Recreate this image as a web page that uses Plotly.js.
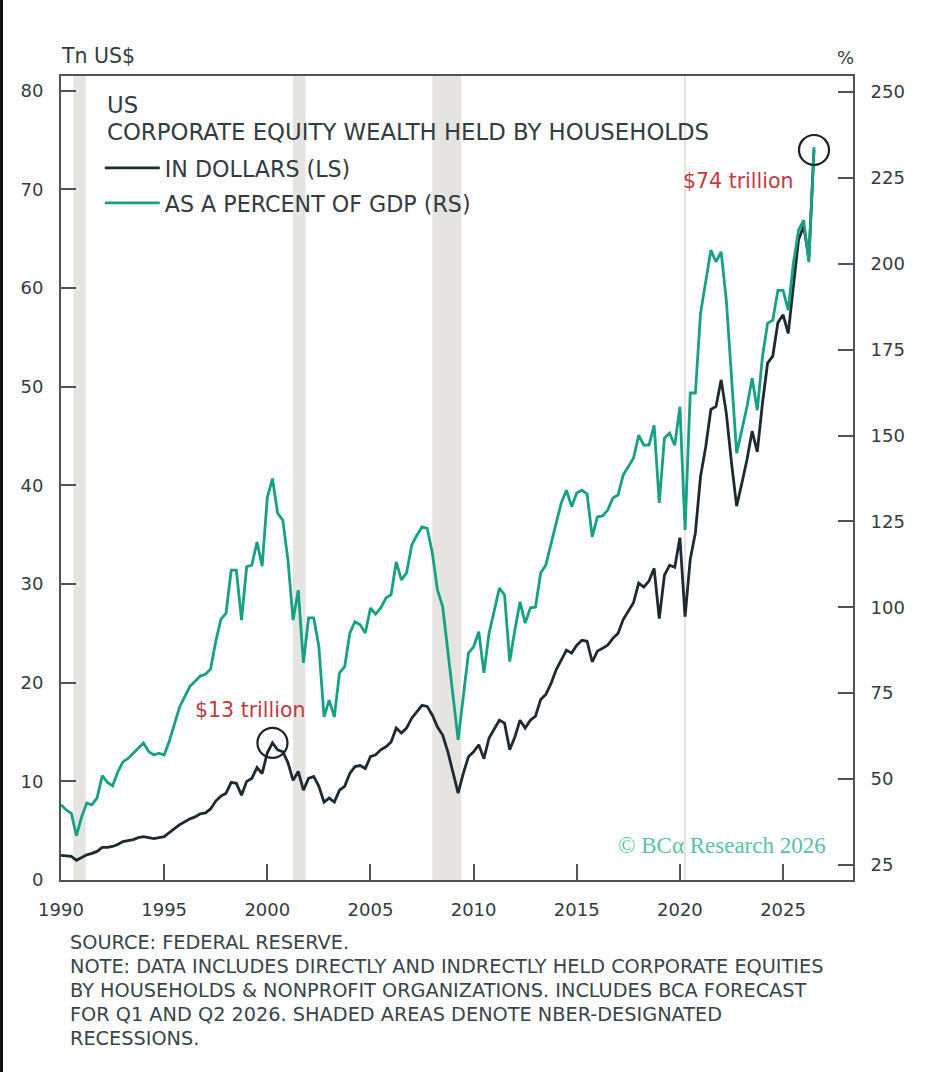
<!DOCTYPE html>
<html>
<head>
<meta charset="utf-8">
<script src="https://cdn.plot.ly/plotly-3.0.1.min.js"></script>
<style>
  html, body { margin: 0; padding: 0; background: #ffffff; }
  #wrap { position: relative; width: 939px; height: 1072px; overflow: hidden; }
  #chart { width: 939px; height: 1072px; }
  #edge { position: absolute; left: 0; top: 0; width: 3px; height: 1072px; background: #111; }
</style>
</head>
<body>
<div id="wrap"><div id="chart"></div><div id="edge"></div></div>
<script>
// ---- Data (quarter-end dates, 1989Q4 .. 2026Q2) ----
const firstYear = 1989;
const firstQuarter = 4;

// Corporate equity wealth held by households, trillions of US$ (left scale)
const dollarsTn = [
  2.5, 2.45, 2.4, 2.0,
  2.3, 2.55, 2.7, 2.9,
  3.3, 3.3, 3.4, 3.6,
  3.9, 4.0, 4.1, 4.3,
  4.4, 4.3, 4.2, 4.3,
  4.4, 4.8, 5.2, 5.6,
  5.9, 6.2, 6.4, 6.7,
  6.8, 7.2, 8.0, 8.5,
  8.8, 9.9, 9.8, 8.6,
  10.0, 10.3, 11.4, 10.8,
  12.9, 13.9, 13.2, 13.0,
  11.9, 10.1, 11.0, 9.1,
  10.3, 10.5, 9.5, 7.9,
  8.3, 7.9, 9.1, 9.5,
  10.8, 11.5, 11.6, 11.3,
  12.5, 12.7, 13.2, 13.5,
  14.0, 15.4, 14.9, 15.4,
  16.4, 17.1, 17.7, 17.6,
  16.7, 15.5, 14.7, 13.0,
  11.0, 8.8, 10.8, 12.5,
  13.0, 13.7, 12.3, 14.4,
  15.3, 16.2, 15.9, 13.2,
  14.5, 16.2, 15.4, 16.2,
  16.6, 18.3, 18.8, 19.9,
  21.3, 22.3, 23.3, 23.0,
  23.8, 24.3, 24.2, 22.1,
  23.2, 23.5, 23.8, 24.5,
  25.0, 26.4, 27.2, 28.1,
  30.1, 29.7, 30.3, 31.6,
  26.5, 30.9, 31.9, 31.7,
  34.7, 26.7, 32.5, 35.2,
  40.9, 43.9, 47.7, 48.0,
  50.7, 47.3, 42.3, 37.9,
  40.2, 42.6, 45.5, 43.4,
  48.3, 52.4, 53.1, 56.5,
  57.3, 55.4, 60.2, 64.9,
  66.3, 63.0, 74.0
];

// As a percent of GDP (right scale)
const pctGDP = [
  42.5, 41, 40, 33.5,
  39, 43, 42.5, 44.5,
  51, 49, 48, 52,
  55, 56, 57.5, 59,
  60.5, 58, 57, 57.5,
  57, 61, 66, 71,
  74, 77, 78.5, 80,
  80.5, 82, 90, 96.5,
  98.3, 110.8, 110.8, 96.3,
  111.8, 112.3, 119, 112,
  132, 137.5, 127.4, 125.4,
  113.8, 96.3, 105, 83.8,
  96.9, 96.9, 88.5, 68.1,
  73, 68.1, 80.9, 82.7,
  92.5, 95.8, 94.9, 92.5,
  99.8, 98, 99.8, 102.7,
  103.7, 113.2, 108, 110,
  118.1, 121, 123.4, 123,
  115.8, 105, 100.2, 86.7,
  73, 61.4, 74, 86.7,
  88.5, 92.9, 80.9, 92.5,
  99, 105.6, 103.6, 84.2,
  93.4, 101.6, 95.4, 99.8,
  100.1, 110, 112.3, 118.7,
  124.5, 130.4, 134.1, 129.3,
  133.3, 134.1, 133, 120.5,
  126.3, 126.6, 128.3, 131.8,
  132.7, 138.5, 141, 143.4,
  150.1, 147.2, 147.2, 153,
  130.4, 149.3, 150.7, 147.2,
  158.4, 122.5, 162.4, 162.4,
  185.6, 194.4, 204, 200.6,
  203.5, 189.4, 166.2, 144.9,
  151.6, 158.4, 166.7, 157.4,
  172.9, 182.7, 183.6, 192.3,
  192.3, 186.5, 200.2, 209.8,
  212.7, 200.5, 234
];

// NBER recessions (decimal years)
const recessions = [[1990.6, 1991.2], [2001.25, 2001.85], [2008.0, 2009.4], [2020.2, 2020.3]];
const xTicks = [1990, 1995, 2000, 2005, 2010, 2015, 2020, 2025];
const leftTicks = [0, 10, 20, 30, 40, 50, 60, 70, 80];
const rightTicks = [25, 50, 75, 100, 125, 150, 175, 200, 225, 250];
const seriesNames = ['IN DOLLARS (LS)', 'AS A PERCENT OF GDP (RS)'];
const labels = {
  yLeft: 'Tn US$', yRight: '%',
  titleTop: 'US', titleMain: 'CORPORATE EQUITY WEALTH HELD BY HOUSEHOLDS',
  peak2000: '$13 trillion', peak2026: '$74 trillion',
  credit: '© BCα Research 2026',
  footer: [
    'SOURCE: FEDERAL RESERVE.',
    'NOTE: DATA INCLUDES DIRECTLY AND INDRECTLY HELD CORPORATE EQUITIES',
    'BY HOUSEHOLDS & NONPROFIT ORGANIZATIONS. INCLUDES BCA FORECAST',
    'FOR Q1 AND Q2 2026. SHADED AREAS DENOTE NBER-DESIGNATED',
    'RECESSIONS.'
  ]
};

// ---- Build ----
const dates = [];
for (let i = 0; i < dollarsTn.length; i++) {
  const qIndex = (firstQuarter - 1) + i;
  const y = firstYear + Math.floor(qIndex / 4);
  const q = (qIndex % 4) + 1;
  dates.push(y + q / 4);
}

const FONT = '"DejaVu Sans", "Open Sans", sans-serif';
const TXT = '#323c41';
const DARK = '#1d2a31';
const TEAL = '#17a184';

let peakIdx = 0;
for (let i = 0; i < dates.length; i++) {
  if (dates[i] < 2005 && dollarsTn[i] > dollarsTn[peakIdx]) peakIdx = i;
}
const lastIdx = dates.length - 1;

const traces = [
  { x: dates, y: dollarsTn, type: 'scatter', mode: 'lines', name: seriesNames[0],
    line: { color: DARK, width: 2.8 }, yaxis: 'y', legend: 'legend', hoverinfo: 'skip' },
  { x: dates, y: pctGDP, type: 'scatter', mode: 'lines', name: seriesNames[1],
    line: { color: TEAL, width: 2.8 }, yaxis: 'y2', legend: 'legend2', hoverinfo: 'skip' }
];

const shapes = recessions.map(r => ({
  type: 'rect', xref: 'x', yref: 'paper', x0: r[0], x1: r[1], y0: 0, y1: 1,
  fillcolor: '#e6e4e1', line: { width: 0 }, layer: 'below'
}));
[peakIdx, lastIdx].forEach(i => {
  shapes.push({
    type: 'circle', xref: 'x', yref: 'y', xsizemode: 'pixel', ysizemode: 'pixel',
    xanchor: dates[i], yanchor: dollarsTn[i], x0: -15, x1: 15, y0: -15, y1: 15,
    line: { color: '#1b2126', width: 2.2 }, fillcolor: 'rgba(0,0,0,0)'
  });
});

const annotations = [
  { xref: 'paper', yref: 'paper', x: -0.002, y: 1.0, yshift: 6, xanchor: 'left', yanchor: 'bottom',
    text: labels.yLeft, showarrow: false, font: { family: FONT, size: 20.5, color: TXT } },
  { xref: 'paper', yref: 'paper', x: 0.990, y: 1.0, yshift: 6, xanchor: 'center', yanchor: 'bottom',
    text: labels.yRight, showarrow: false, font: { family: FONT, size: 18, color: TXT } },
  { xref: 'paper', yref: 'paper', x: 0.0556, y: 0.964, xanchor: 'left', yanchor: 'middle',
    text: labels.titleTop, showarrow: false, font: { family: FONT, size: 22.8, color: TXT } },
  { xref: 'paper', yref: 'paper', x: 0.0556, y: 0.930, xanchor: 'left', yanchor: 'middle',
    text: labels.titleMain, showarrow: false, font: { family: FONT, size: 22.8, color: TXT } },
  { xref: 'x', yref: 'y', x: dates[peakIdx], y: dollarsTn[peakIdx], xshift: -22, yshift: 33,
    text: labels.peak2000, showarrow: false, font: { family: FONT, size: 20.5, color: '#c2393f' } },
  { xref: 'x', yref: 'y', x: dates[lastIdx], y: dollarsTn[lastIdx], xshift: -76, yshift: -31,
    text: labels.peak2026, showarrow: false, font: { family: FONT, size: 20.5, color: '#c2393f' } },
  { xref: 'paper', yref: 'paper', x: 0.968, y: 0.0435, xanchor: 'right', yanchor: 'middle',
    text: labels.credit, showarrow: false, font: { family: '"Liberation Serif", "DejaVu Serif", serif', size: 23, color: '#5bbfab' } }
];
labels.footer.forEach((line, k) => {
  annotations.push({
    xref: 'paper', yref: 'paper', x: 0.0088, y: 0, yshift: -(62 + 24 * k),
    xanchor: 'left', yanchor: 'middle', text: line, showarrow: false,
    font: { family: FONT, size: 19.3, color: '#37454b' }
  });
});

const axisCommon = {
  showgrid: false, zeroline: false, showline: true, linecolor: '#4d5559', linewidth: 2,
  ticks: 'inside', tickcolor: '#4d5559', tickwidth: 2,
  tickfont: { family: FONT, size: 18, color: TXT }
};

const layout = {
  width: 939, height: 1072,
  margin: { l: 61, r: 86, t: 76, b: 192, pad: 0 },
  paper_bgcolor: '#ffffff', plot_bgcolor: '#ffffff',
  showlegend: true,
  xaxis: Object.assign({}, axisCommon, {
    range: [1990, 2028.39], tickvals: xTicks, ticktext: xTicks.map(String),
    ticklen: 16, mirror: true, ticklabelstandoff: 12
  }),
  yaxis: Object.assign({}, axisCommon, {
    range: [0, 81.5], tickvals: leftTicks, ticklen: 15, ticklabelstandoff: 12
  }),
  yaxis2: Object.assign({}, axisCommon, {
    overlaying: 'y', side: 'right', range: [20.6, 254.7], tickvals: rightTicks,
    ticklen: 15, ticklabelstandoff: 12
  }),
  legend: { x: 0.049, y: 0.8856, xanchor: 'left', yanchor: 'middle', bgcolor: 'rgba(0,0,0,0)',
    font: { family: FONT, size: 22.2, color: TXT }, itemwidth: 55 },
  legend2: { x: 0.049, y: 0.842, xanchor: 'left', yanchor: 'middle', bgcolor: 'rgba(0,0,0,0)',
    font: { family: FONT, size: 22.2, color: TXT }, itemwidth: 55 },
  shapes: shapes,
  annotations: annotations
};

Plotly.newPlot('chart', traces, layout, { displayModeBar: false, staticPlot: true });
</script>
</body>
</html>
